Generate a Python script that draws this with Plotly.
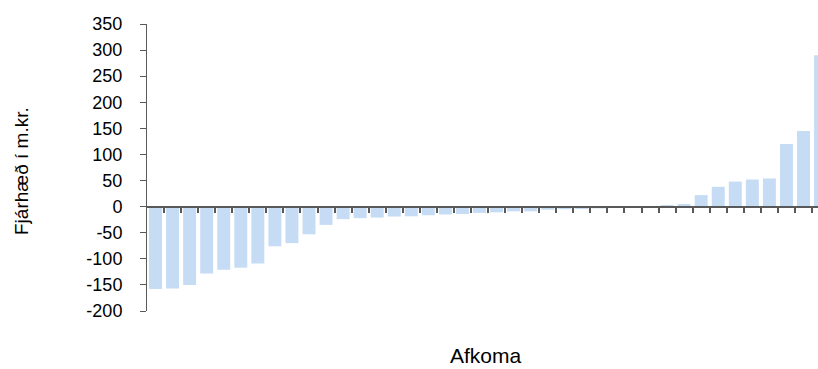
import plotly.graph_objects as go

# Afkoma per eining, sorted from largest loss to largest gain (m.kr.)
values = [-158, -157, -150, -128, -121, -117, -109, -76, -70, -53,
          -35, -24, -22, -21, -19, -18.5, -16.5, -15, -14, -12,
          -11, -9, -9, -6, -5, -4.5, -3.5, 0, 0, 0,
          1.5, 5, 22, 38, 48, 52, 54, 120, 145, 290]
positions = list(range(len(values)))

y_ticks = [-200, -150, -100, -50, 0, 50, 100, 150, 200, 250, 300, 350]
y_tick_labels = ["-200", "-150", "-100", "-50", "0", "50", "100", "150",
                 "200", "250", "300", "350"]

x_title = "Afkoma"
y_title = "Fjárhæð í m.kr."

FONT = "Liberation Sans, Arial, sans-serif"
AXIS_GREY = "#595959"

fig = go.Figure(
    go.Bar(
        x=positions,
        y=values,
        width=0.76,
        marker=dict(color="#c6dcf5", line=dict(width=0)),
        hoverinfo="skip",
    )
)

y_min, y_max = -200, 350

fig.update_layout(
    width=818,
    height=369,
    margin=dict(l=147, r=0, t=24, b=58),
    paper_bgcolor="white",
    plot_bgcolor="white",
    showlegend=False,
    font=dict(family=FONT, size=18, color="#000000"),
    xaxis=dict(
        range=[-0.5, 38.85],
        showgrid=False,
        zeroline=False,
        showticklabels=False,
        tickvals=[p + 0.5 for p in positions[:-1]],
        ticks="outside",
        ticklen=6,
        tickwidth=1.5,
        tickcolor=AXIS_GREY,
        showline=True,
        linecolor=AXIS_GREY,
        linewidth=1.5,
        anchor="free",
        position=(0 - y_min) / (y_max - y_min),
    ),
    yaxis=dict(
        range=[y_min, y_max],
        showgrid=False,
        zeroline=False,
        tickvals=y_ticks,
        ticktext=y_tick_labels,
        ticks="outside",
        ticklen=6,
        tickwidth=1,
        tickcolor=AXIS_GREY,
        showline=True,
        linecolor=AXIS_GREY,
        linewidth=1,
        ticklabelstandoff=14,
        tickfont=dict(family=FONT, size=18, color="#000000"),
    ),
    annotations=[
        dict(
            text=x_title,
            xref="paper", yref="paper",
            x=(486 - 147) / 671, y=-(355 - 311) / 287,
            xanchor="center", yanchor="middle",
            showarrow=False,
            font=dict(family=FONT, size=21, color="#000000"),
        ),
        dict(
            text=y_title,
            xref="paper", yref="paper",
            x=-(147 - 21) / 671, y=(311 - 171) / 287,
            xanchor="center", yanchor="middle",
            textangle=-90,
            showarrow=False,
            font=dict(family=FONT, size=19, color="#000000"),
        ),
    ],
)

fig.write_html("out.html")
